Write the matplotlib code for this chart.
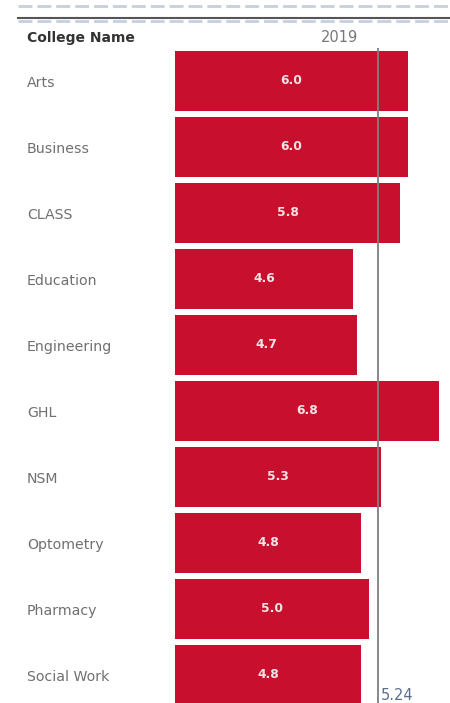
import matplotlib
matplotlib.use("Agg")
import matplotlib.pyplot as plt
from matplotlib.lines import Line2D

colleges = ["Arts", "Business", "CLASS", "Education", "Engineering", "GHL",
            "NSM", "Optometry", "Pharmacy", "Social Work"]
values = [6.0, 6.0, 5.8, 4.6, 4.7, 6.8, 5.3, 4.8, 5.0, 4.8]
ref_value = 5.24
column_header = "2019"
row_header = "College Name"

W, H = 450, 703
plt.rcParams['font.family'] = ['DejaVu Sans']
fig = plt.figure(figsize=(W / 100, H / 100), dpi=100)

# axes: x from 175 px to 450 px, y from 48 px to 703 px
ax = fig.add_axes([175 / W, 0, 275 / W, (H - 48) / H])
px_per_unit = 38.8
ax.set_xlim(0, 275 / px_per_unit)
pitch = 66
ax.set_ylim((703 - 81) / pitch, (48 - 81) / pitch)

ypos = list(range(len(colleges)))
ax.barh(ypos, values, height=60 / 66, color="#c8102e", edgecolor="none")
for y, v in zip(ypos, values):
    ax.text(v / 2, y, f"{v:.1f}", ha="center", va="center", color="#f3e4e6",
            fontsize=8.8, fontweight="semibold")

ax.axvline(ref_value, color="#7f7f7f", lw=1.3)
ax.text(ref_value + 0.07, (696 - 81) / pitch, f"{ref_value:.2f}", ha="left",
        va="center", color="#5b6f8c", fontsize=10.5)

for s in ax.spines.values():
    s.set_visible(False)
ax.set_xticks([])
ax.set_yticks([])
ax.patch.set_alpha(0)

# row labels
for y, name in zip(ypos, colleges):
    fy = 1 - (83 + pitch * y) / H
    fig.text(27 / W, fy, name, ha="left", va="center", color="#707070", fontsize=10.2)

# header
fig.text(27 / W, 1 - 38 / H, row_header, ha="left", va="center", color="#333333",
         fontsize=10, fontweight="bold")
fig.text(340 / W, 1 - 37 / H, column_header, ha="center", va="center",
         color="#777777", fontsize=10.5)

# top lines
fig.add_artist(Line2D([18 / W, 1], [1 - 6 / H, 1 - 6 / H], color="#c5cfe0",
                      lw=2, linestyle=(0, (5, 1.8))))
fig.add_artist(Line2D([18 / W, 1], [1 - 17.5 / H, 1 - 17.5 / H], color="#555555", lw=1.5))
fig.add_artist(Line2D([18 / W, 1], [1 - 20.5 / H, 1 - 20.5 / H], color="#c5cfe0",
                      lw=2, linestyle=(0, (5, 1.8))))

fig.savefig("out.png", dpi=100)
